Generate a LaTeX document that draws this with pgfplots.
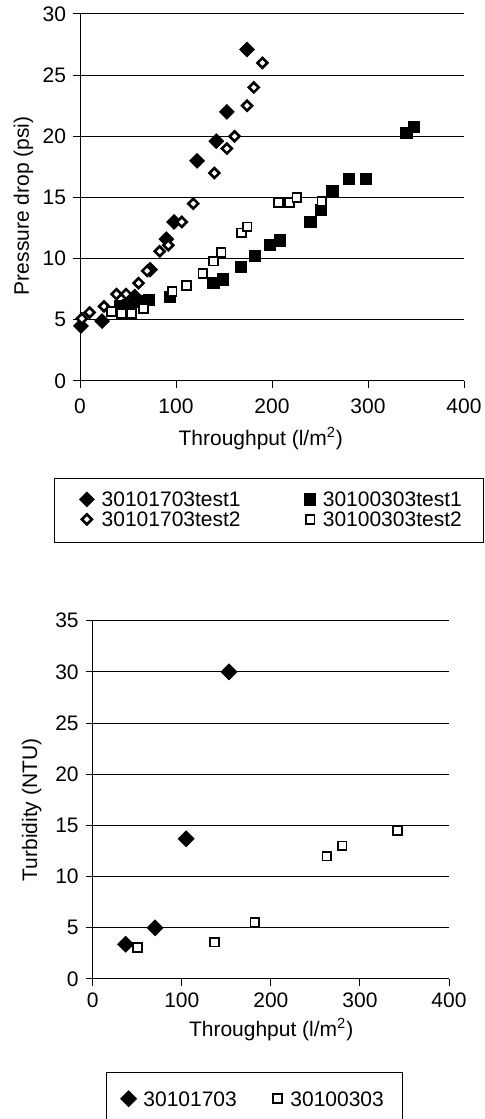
\documentclass[border=0pt]{standalone}
\usepackage{fontspec}
\setmainfont{Liberation Sans}
\usepackage{pgfplots}
\pgfplotsset{compat=1.18}
\newcommand{\chartfont}{\fontsize{10.5}{12}\selectfont}
\pgfplotsset{
  excel/.style={
    scale only axis, clip=false,
    axis lines=left, axis line style={-, black, line width=0.5pt},
    tick align=outside, major tick length=3.5pt,
    tick style={black, line width=0.5pt},
    ymajorgrids, major grid style={black, line width=0.5pt},
    xmin=0, xmax=400, xtick={0,100,...,400},
    ticklabel style={font=\chartfont},
    /pgf/number format/assume math mode=true,
    legend cell align=left,
  },
  sqleg/.style={legend image code/.code={\path[draw=none,fill=none] (-5pt,-4pt) rectangle (4pt,4pt); \draw[##1] plot coordinates {(0pt,0pt)};}},
  dialeg/.style={legend image code/.code={\path[draw=none,fill=none] (-5pt,-4pt) rectangle (4pt,4pt); \draw[##1] plot coordinates {(-1pt,0pt)};}},
  fdia/.style={only marks, mark=square*, mark size=#1, mark options={rotate=45, draw=black, fill=black, line width=0.4pt}, dialeg},
  odia/.style={only marks, mark=square*, mark size=1.75pt, mark options={rotate=45, draw=black, fill=white, line width=1.3pt}, dialeg},
  fsq/.style={only marks, mark=square*, mark size=2.8pt, mark options={draw=black, fill=black, line width=0.4pt}, sqleg},
  osq/.style={only marks, mark=square*, mark size=2.2pt, mark options={draw=black, fill=white, line width=0.9pt}, sqleg},
}
\begin{document}
\begin{tikzpicture}
\path[use as bounding box] (0pt,0pt) rectangle (242pt,559.5pt);
% ---------------- top chart ----------------
\begin{axis}[excel,
  at={(40pt,369pt)}, anchor=south west, width=192pt, height=183.5pt,
  ymin=0, ymax=30, ytick={0,5,...,30},
  xticklabel style={yshift=-2pt},
  xlabel={Throughput (l/m\textsuperscript{2})},
  ylabel={Pressure drop (psi)},
  every axis x label/.style={at={(axis description cs:0.4708,0)}, anchor=base, yshift=-32.3pt, font=\chartfont},
  every axis y label/.style={at={(axis description cs:-0.1470,0.4774)}, anchor=center, rotate=90, font=\chartfont},
  legend columns=2,
  legend style={draw=none, fill=none, inner sep=0pt,
    at={(axis description cs:-0.0039,-0.2997)}, anchor=north west,
    font=\chartfont, nodes={inner sep=0pt, text depth=0pt}, row sep=2pt,
    /tikz/every odd column/.append style={column sep=2.4pt},
    /tikz/every even column/.append style={column sep=29.7pt}},
]
\addplot[fdia=2.6pt] coordinates {
(1,4.5) (23,4.9) (57,6.9) (73,9.1) (90,11.6) (98,13.0) (122,18.0) (142,19.6) (153,22.0) (174,27.1)};
\addlegendentry{30101703test1}
\addplot[fsq] coordinates {
(42,6.1) (50,6.2) (59,6.5) (72,6.6) (94,6.9) (139,8.0) (149,8.3) (168,9.3) (182,10.2) (198,11.1) (208,11.5) (240,13.0) (251,14.0) (263,15.5) (280,16.5) (298,16.5) (340,20.3) (348,20.8)};
\addlegendentry{30100303test1}
\addplot[odia] coordinates {
(2,5.1) (10,5.6) (25,6.1) (38,7.1) (48,7.1) (61,8.0) (70,9.0) (83,10.6) (92,11.1) (106,13.0) (118,14.5) (140,17.0) (153,19.0) (161,20.0) (174,22.5) (181,24.0) (190,26.0)};
\addlegendentry{30101703test2}
\addplot[osq] coordinates {
(33,5.7) (43,5.5) (54,5.5) (66,5.9) (96,7.3) (111,7.8) (128,8.8) (139,9.8) (147,10.5) (168,12.1) (174,12.6) (207,14.6) (218,14.6) (226,15.0) (252,14.7)};
\addlegendentry{30100303test2}
\end{axis}
% ---------------- bottom chart ----------------
\begin{axis}[excel,
  at={(46.35pt,70pt)}, anchor=south west, width=178.15pt, height=179.15pt,
  ymin=0, ymax=35, ytick={0,5,...,35},
  xlabel={Throughput (l/m\textsuperscript{2})},
  ylabel={Turbidity (NTU)},
  every axis x label/.style={at={(axis description cs:0.501,0)}, anchor=base, yshift=-28.85pt, font=\chartfont},
  every axis y label/.style={at={(axis description cs:-0.1712,0.4717)}, anchor=center, rotate=90, font=\chartfont},
  legend columns=2,
  legend style={draw=none, fill=none, inner sep=0pt,
    at={(axis description cs:0.0772,-0.3106)}, anchor=north west,
    font=\chartfont, nodes={inner sep=0pt, text depth=0pt},
    /tikz/every odd column/.append style={column sep=2.4pt},
    /tikz/every even column/.append style={column sep=15.4pt}},
]
\addplot[fdia=2.8pt] coordinates {(37,3.4) (70,5.0) (105,13.7) (153,30.0)};
\addlegendentry{30101703}
\addplot[osq] coordinates {(50,3.1) (137,3.6) (182,5.5) (263,12.0) (280,13.0) (342,14.5)};
\addlegendentry{30100303}
\end{axis}
\draw[black, line width=0.5pt] (27pt,288pt) rectangle (241.75pt,320pt);
\draw[black, line width=0.5pt] (53.35pt,-5pt) rectangle (201.15pt,23.35pt);
\end{tikzpicture}
\end{document}
